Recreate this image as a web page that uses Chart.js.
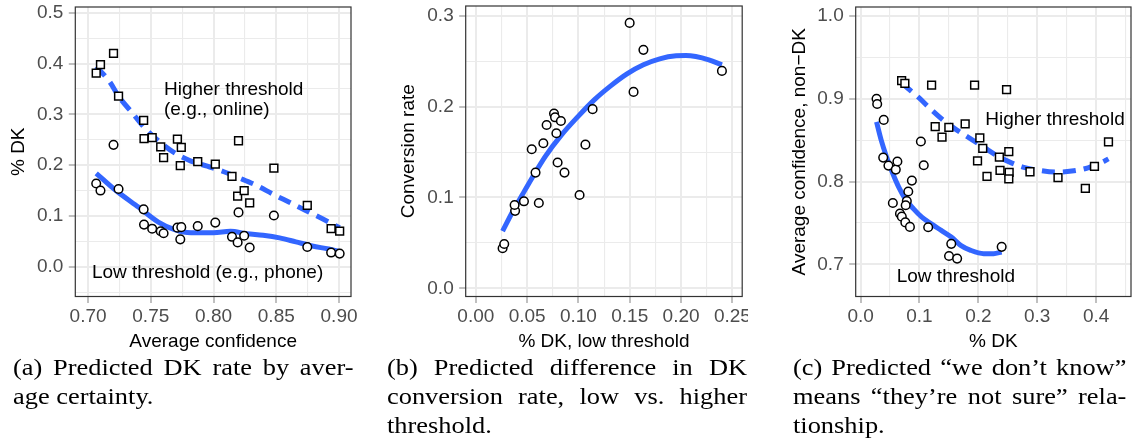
<!DOCTYPE html>
<html>
<head>
<meta charset="utf-8">
<title>DK rates, low vs. higher threshold</title>
<script src="https://cdn.jsdelivr.net/npm/chart.js@4.4.1/dist/chart.umd.min.js"></script>
<style>
  html, body { margin: 0; padding: 0; background: #fff; }
  #fig { position: relative; width: 1138px; height: 440px; overflow: hidden; background: #fff; }
  .panel { position: absolute; top: 0; overflow: hidden; }
  .panel canvas { display: block; }
  .cap { position: absolute; top: 353.4px; font-family: "Liberation Serif", "Times New Roman", serif;
         font-size: 24px; line-height: 29px; color: #000; }
  .cap .ln { transform: scaleX(1.1); transform-origin: 0 0; }
  .cap .j { text-align: justify; text-align-last: justify; }
</style>
</head>
<body>
<div id="fig">
  <div class="panel" style="left:0px;width:358px;height:370px"><canvas id="chartA" width="358" height="370"></canvas></div>
  <div class="panel" style="left:380px;width:368px;height:370px"><canvas id="chartB" width="368" height="370"></canvas></div>
  <div class="panel" style="left:760px;width:378px;height:370px"><canvas id="chartC" width="378" height="370"></canvas></div>

  <div class="cap" style="left:12.7px">
    <div class="ln j" style="width:309.6px">(a) Predicted DK rate by aver-</div>
    <div class="ln">age certainty.</div>
  </div>
  <div class="cap" style="left:386.7px">
    <div class="ln j" style="width:327.3px">(b) Predicted difference in DK</div>
    <div class="ln j" style="width:327.3px">conversion rate, low vs. higher</div>
    <div class="ln">threshold.</div>
  </div>
  <div class="cap" style="left:793.3px">
    <div class="ln j" style="width:303.1px">(c) Predicted “we don’t know”</div>
    <div class="ln j" style="width:303.1px">means “they’re not sure” rela-</div>
    <div class="ln">tionship.</div>
  </div>
</div>

<script>
const FONT = '"Liberation Sans", Arial, Helvetica, sans-serif';
const BLUE = '#3366FF';
Chart.defaults.font.family = FONT;

// ---------- (a) % DK by average confidence ----------
const avgConfidence = [0.7065, 0.7099, 0.7203, 0.7243, 0.7443, 0.7446, 0.7511, 0.7579, 0.7602, 0.7712, 0.7743, 0.7735,
                       0.7874, 0.8014, 0.8147, 0.8199, 0.8192, 0.8244, 0.8288, 0.8481, 0.8747, 0.8937, 0.9005];
const dkHigherA = [0.381, 0.398, 0.420, 0.336, 0.288, 0.252, 0.254, 0.236, 0.215, 0.251, 0.235, 0.199,
                   0.207, 0.202, 0.178, 0.248, 0.139, 0.150, 0.126, 0.194, 0.121, 0.075, 0.070];
const dkLowA = [0.164, 0.150, 0.240, 0.153, 0.113, 0.083, 0.075, 0.070, 0.066, 0.077, 0.078, 0.054,
                0.080, 0.087, 0.059, 0.107, 0.048, 0.061, 0.038, 0.101, 0.039, 0.028, 0.026];
const smoothHigherAX = [0.7065, 0.717, 0.7248, 0.7352, 0.7456, 0.756, 0.769, 0.782, 0.795, 0.8082, 0.8213, 0.8343,
                        0.8473, 0.8604, 0.8734, 0.8864, 0.9005];
const smoothHigherAY = [0.394, 0.365, 0.334, 0.303, 0.272, 0.248, 0.224, 0.208, 0.198, 0.187, 0.174, 0.160,
                        0.143, 0.127, 0.111, 0.095, 0.077];
const smoothLowAX = [0.7065, 0.7222, 0.7404, 0.756, 0.769, 0.782, 0.800, 0.8134, 0.8265, 0.8395, 0.8526, 0.8656,
                     0.8786, 0.8917, 0.9005];
const smoothLowAY = [0.184, 0.150, 0.117, 0.088, 0.073, 0.067, 0.067, 0.070, 0.065, 0.062, 0.057, 0.049,
                     0.041, 0.035, 0.030];
const xTicksA = [0.70, 0.75, 0.80, 0.85, 0.90];
const xLabelsA = ['0.70', '0.75', '0.80', '0.85', '0.90'];
const xMinorA = [0.725, 0.775, 0.825, 0.875];
const yTicksA = [0.0, 0.1, 0.2, 0.3, 0.4, 0.5];
const yLabelsA = ['0.0', '0.1', '0.2', '0.3', '0.4', '0.5'];
const yMinorA = [-0.05, 0.05, 0.15, 0.25, 0.35, 0.45];

// ---------- (b) conversion rate by % DK (low threshold) ----------
const dkLowB = [0.0261, 0.0277, 0.0383, 0.0378, 0.0469, 0.0614, 0.0545, 0.0582, 0.0658, 0.0690, 0.0762, 0.0772,
                0.0785, 0.0829, 0.0797, 0.0864, 0.1011, 0.1068, 0.1138, 0.1499, 0.1537, 0.1633, 0.2398];
const conversionRate = [0.0441, 0.0488, 0.0853, 0.0917, 0.0958, 0.0940, 0.1531, 0.1274, 0.1598, 0.1799, 0.1924, 0.1883,
                        0.1708, 0.1843, 0.1386, 0.1274, 0.1028, 0.1582, 0.1973, 0.2923, 0.2163, 0.2626, 0.2394];
const smoothBX = [0.0261, 0.0357, 0.0453, 0.0548, 0.0676, 0.0835, 0.0995, 0.1154, 0.1314, 0.1473, 0.1633, 0.1792,
                  0.1952, 0.2047, 0.2143, 0.2270, 0.2398];
const smoothBY = [0.0630, 0.0840, 0.1030, 0.1215, 0.1450, 0.1689, 0.1891, 0.2075, 0.2229, 0.2361, 0.2461, 0.2527,
                  0.2560, 0.2563, 0.2552, 0.2516, 0.2461];
const xTicksB = [0.00, 0.05, 0.10, 0.15, 0.20, 0.25];
const xLabelsB = ['0.00', '0.05', '0.10', '0.15', '0.20', '0.25'];
const xMinorB = [0.025, 0.075, 0.125, 0.175, 0.225];
const yTicksB = [0.0, 0.1, 0.2, 0.3];
const yLabelsB = ['0.0', '0.1', '0.2', '0.3'];
const yMinorB = [0.05, 0.15, 0.25];

// ---------- (c) average confidence (non-DK) by % DK ----------
const dkHigherC = [0.0697, 0.0752, 0.1206, 0.1936, 0.2479, 0.1267, 0.1383, 0.1499, 0.1776, 0.2025, 0.2075, 0.1986,
                   0.2147, 0.2357, 0.2517, 0.2368, 0.2523, 0.2517, 0.2877, 0.3353, 0.3817, 0.3972, 0.4210];
const confHigherC = [0.9218, 0.9186, 0.9166, 0.9166, 0.9110, 0.8664, 0.8536, 0.8656, 0.8696, 0.8528, 0.8400, 0.8251,
                     0.8063, 0.8295, 0.8363, 0.8135, 0.8111, 0.8034, 0.8119, 0.8047, 0.7918, 0.8183, 0.8480];
const dkLowC = [0.0271, 0.0282, 0.0393, 0.0384, 0.0473, 0.0598, 0.0625, 0.0548, 0.1024, 0.1073, 0.0871, 0.0810,
                0.0785, 0.0766, 0.0669, 0.0700, 0.0760, 0.0838, 0.1148, 0.1540, 0.1502, 0.1640, 0.2396];
const confLowC = [0.9001, 0.8937, 0.8745, 0.8290, 0.8193, 0.8145, 0.8243, 0.7742, 0.8484, 0.8197, 0.8012, 0.7880,
                  0.7766, 0.7714, 0.7613, 0.7577, 0.7507, 0.7453, 0.7449, 0.7248, 0.7102, 0.7070, 0.7212];
const smoothHigherCX = [0.0697, 0.0763, 0.0985, 0.1206, 0.1427, 0.1649, 0.1870, 0.2091, 0.2313, 0.2534, 0.2755,
                        0.3032, 0.3308, 0.3585, 0.3862, 0.4138, 0.4210];
const smoothHigherCY = [0.9190, 0.9150, 0.9017, 0.8865, 0.8728, 0.8616, 0.8516, 0.8416, 0.8315, 0.8235, 0.8175,
                        0.8135, 0.8115, 0.8127, 0.8167, 0.8247, 0.8275];
const smoothLowCX = [0.0271, 0.035, 0.044, 0.054, 0.065, 0.076, 0.090, 0.104, 0.120, 0.137, 0.154, 0.170,
                     0.187, 0.209, 0.226, 0.2396];
const smoothLowCY = [0.872, 0.850, 0.830, 0.811, 0.793, 0.779, 0.767, 0.757, 0.749, 0.741, 0.733, 0.723,
                     0.717, 0.713, 0.713, 0.715];
const xTicksC = [0.0, 0.1, 0.2, 0.3, 0.4];
const xLabelsC = ['0.0', '0.1', '0.2', '0.3', '0.4'];
const xMinorC = [0.05, 0.15, 0.25, 0.35, 0.45];
const yTicksC = [0.7, 0.8, 0.9, 1.0];
const yLabelsC = ['0.7', '0.8', '0.9', '1.0'];
const yMinorC = [0.75, 0.85, 0.95];

// in-panel labels, placed in data units
const notesA = [
  { text: 'Higher threshold', x: 0.7605, y: 0.349 },
  { text: '(e.g., online)', x: 0.7605, y: 0.309 },
  { text: 'Low threshold (e.g., phone)', x: 0.7031, y: -0.012 }
];
const notesB = [];
const notesC = [
  { text: 'Higher threshold', x: 0.2118, y: 0.8745 },
  { text: 'Low threshold', x: 0.0614, y: 0.6851 }
];

// ---------- helpers ----------
function pts(xs, ys) { return xs.map((x, i) => ({ x: x, y: ys[i] })); }

function tickList(major, labels, minor) {
  return major.map((v, i) => ({ value: v, text: labels[i], minor: false }))
    .concat(minor.map(v => ({ value: v, text: '', minor: true })))
    .sort((p, q) => p.value - q.value);
}

function axisOptions(o) {
  const horizontal = o.position === 'bottom';
  return {
    type: 'linear',
    position: o.position,
    min: o.min,
    max: o.max,
    bounds: 'data',
    afterBuildTicks: s => { s.ticks = o.ticks.map(t => Object.assign({}, t)); },
    afterFit: s => {
      s.paddingLeft = 0; s.paddingRight = 0; s.paddingTop = 0; s.paddingBottom = 0;
      if (horizontal) s.height = o.size; else s.width = o.size;
    },
    grid: {
      color: '#EBEBEB',
      lineWidth: c => (c.tick && c.tick.minor) ? 1.1 : 2,
      drawTicks: true,
      tickLength: 6.5,
      tickWidth: 1.1,
      tickColor: c => (c.tick && c.tick.minor) ? 'rgba(0,0,0,0)' : '#8C8C8C'
    },
    border: { display: false },
    ticks: {
      autoSkip: false, maxRotation: 0, minRotation: 0,
      padding: horizontal ? 2.6 : 5.5,
      color: '#4D4D4D',
      font: { family: FONT, size: 19 },
      callback: (v, i, arr) => arr[i].text
    },
    title: {
      display: true, text: o.title, color: '#000',
      font: { family: FONT, size: 19 },
      padding: horizontal ? { top: 0, bottom: o.titlePad } : { top: o.titlePad, bottom: 0 }
    }
  };
}

function fitLine(xs, ys, dashed) {
  return {
    data: pts(xs, ys), showLine: true, fill: false,
    borderColor: BLUE, borderWidth: 5, borderDash: dashed ? [13, 8] : [],
    borderCapStyle: 'butt', borderJoinStyle: 'round',
    cubicInterpolationMode: 'monotone',
    pointRadius: 0, pointHoverRadius: 0, order: 2
  };
}

function markers(xs, ys, style) {
  const r = style === 'rect' ? 5.5 : 4.3;
  return {
    data: pts(xs, ys), showLine: false,
    pointStyle: style, pointRadius: r, pointHoverRadius: r,
    pointBorderWidth: 1.5, pointBorderColor: '#000', pointBackgroundColor: '#fff',
    order: 1
  };
}

// panel frame on top of the marks, plus the in-panel text labels
function framePlugin(notes) {
  return {
    id: 'frameAndNotes',
    afterDatasetsDraw(chart) {
      const { ctx, chartArea: a, scales } = chart;
      ctx.save();
      ctx.strokeStyle = '#333333';
      ctx.lineWidth = 1.2;
      ctx.strokeRect(a.left, a.top, a.right - a.left, a.bottom - a.top);
      ctx.fillStyle = '#000';
      ctx.font = '19px ' + FONT;
      ctx.textAlign = 'left';
      ctx.textBaseline = 'middle';
      notes.forEach(n => ctx.fillText(n.text, scales.x.getPixelForValue(n.x), scales.y.getPixelForValue(n.y)));
      ctx.restore();
    }
  };
}

function drawPanel(id, o) {
  new Chart(document.getElementById(id), {
    type: 'scatter',
    data: { datasets: o.datasets },
    options: {
      responsive: false,
      animation: false,
      devicePixelRatio: 1,
      events: [],
      layout: { padding: { left: 0, top: 6, right: o.rightPad, bottom: 0 } },
      plugins: { legend: { display: false }, tooltip: { enabled: false } },
      scales: {
        x: axisOptions({ position: 'bottom', min: o.x[0], max: o.x[1], ticks: o.xTicks,
                         size: 73.5, title: o.xTitle, titlePad: 17 }),
        y: axisOptions({ position: 'left', min: o.y[0], max: o.y[1], ticks: o.yTicks,
                         size: o.yWidth, title: o.yTitle, titlePad: o.yTitlePad })
      }
    },
    plugins: [framePlugin(o.notes)]
  });
}

drawPanel('chartA', {
  x: [0.68984, 0.90953], y: [-0.05843, 0.51118],
  xTicks: tickList(xTicksA, xLabelsA, xMinorA),
  yTicks: tickList(yTicksA, yLabelsA, yMinorA),
  xTitle: 'Average confidence', yTitle: '% DK',
  yWidth: 75.3, yTitlePad: 7.8, rightPad: 1.5,
  notes: notesA,
  datasets: [
    markers(avgConfidence, dkHigherA, 'rect'),
    markers(avgConfidence, dkLowA, 'circle'),
    fitLine(smoothHigherAX, smoothHigherAY, true),
    fitLine(smoothLowAX, smoothLowAY, false)
  ]
});

drawPanel('chartB', {
  x: [-0.00985, 0.25955], y: [-0.00903, 0.3109],
  xTicks: tickList(xTicksB, xLabelsB, xMinorB),
  yTicks: tickList(yTicksB, yLabelsB, yMinorB),
  xTitle: '% DK, low threshold', yTitle: 'Conversion rate',
  yWidth: 85.7, yTitlePad: 17.8, rightPad: 0.7,
  notes: notesB,
  datasets: [
    markers(dkLowB, conversionRate, 'circle'),
    fitLine(smoothBX, smoothBY, false)
  ]
});

drawPanel('chartC', {
  x: [-0.0083, 0.45925], y: [0.66125, 1.01083],
  xTicks: tickList(xTicksC, xLabelsC, xMinorC),
  yTicks: tickList(yTicksC, yLabelsC, yMinorC),
  xTitle: '% DK', yTitle: 'Average confidence, non\u2212DK',
  yWidth: 95.7, yTitlePad: 28.6, rightPad: 0.6,
  notes: notesC,
  datasets: [
    markers(dkHigherC, confHigherC, 'rect'),
    markers(dkLowC, confLowC, 'circle'),
    fitLine(smoothHigherCX, smoothHigherCY, true),
    fitLine(smoothLowCX, smoothLowCY, false)
  ]
});
</script>
</body>
</html>
